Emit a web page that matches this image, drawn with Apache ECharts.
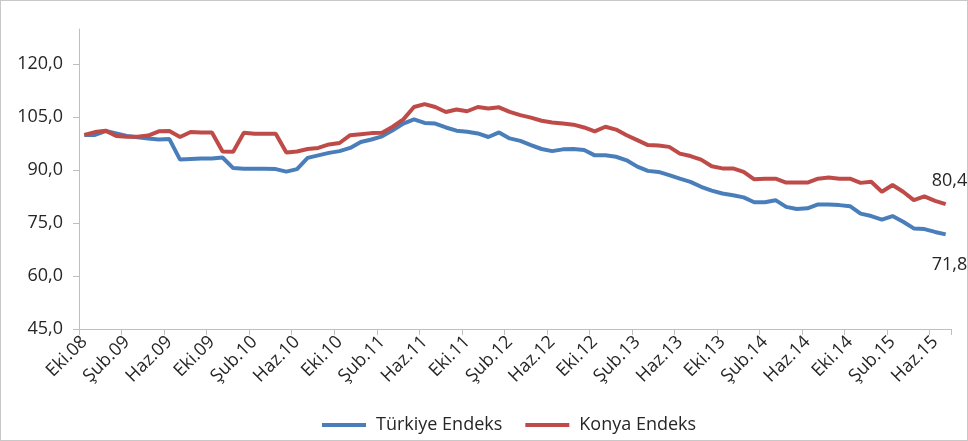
<!DOCTYPE html>
<html>
<head>
<meta charset="utf-8">
<script src="https://cdn.jsdelivr.net/npm/echarts@6/dist/echarts.min.js"></script>
<style>
html,body{margin:0;padding:0;background:#fff;}
#chart{width:966px;height:439px;border:1px solid #c8c8c8;}
</style>
</head>
<body>
<div id="chart"></div>
<script>
const categories = [
 'Eki.08','Kas.08','Ara.08',
 'Oca.09','Şub.09','Mar.09','Nis.09','May.09','Haz.09','Tem.09','Ağu.09','Eyl.09','Eki.09','Kas.09','Ara.09',
 'Oca.10','Şub.10','Mar.10','Nis.10','May.10','Haz.10','Tem.10','Ağu.10','Eyl.10','Eki.10','Kas.10','Ara.10',
 'Oca.11','Şub.11','Mar.11','Nis.11','May.11','Haz.11','Tem.11','Ağu.11','Eyl.11','Eki.11','Kas.11','Ara.11',
 'Oca.12','Şub.12','Mar.12','Nis.12','May.12','Haz.12','Tem.12','Ağu.12','Eyl.12','Eki.12','Kas.12','Ara.12',
 'Oca.13','Şub.13','Mar.13','Nis.13','May.13','Haz.13','Tem.13','Ağu.13','Eyl.13','Eki.13','Kas.13','Ara.13',
 'Oca.14','Şub.14','Mar.14','Nis.14','May.14','Haz.14','Tem.14','Ağu.14','Eyl.14','Eki.14','Kas.14','Ara.14',
 'Oca.15','Şub.15','Mar.15','Nis.15','May.15','Haz.15','Tem.15'
];
const turkiye = [
 100.0,100.0,101.1,
 100.4,99.7,99.3,99.0,98.7,98.8,93.0,93.2,93.3,93.3,93.6,90.6,
 90.4,90.4,90.4,90.3,89.6,90.3,93.5,94.2,94.9,95.4,96.3,98.0,
 98.7,99.6,101.3,103.2,104.4,103.4,103.2,102.1,101.2,100.9,100.4,99.4,
 100.7,99.0,98.3,97.1,96.0,95.4,95.9,96.0,95.7,94.2,94.2,93.8,
 92.8,91.0,89.8,89.5,88.6,87.6,86.7,85.3,84.2,83.4,82.9,82.3,
 80.9,80.9,81.5,79.6,79.0,79.2,80.3,80.3,80.1,79.8,77.7,77.0,
 76.0,77.0,75.4,73.5,73.3,72.5,71.8
];
const konya = [
 100.0,100.8,101.2,
 99.7,99.5,99.5,99.8,101.0,101.1,99.4,100.8,100.7,100.7,95.3,95.2,
 100.6,100.3,100.3,100.3,95.0,95.3,96.0,96.3,97.3,97.7,99.9,100.2,
 100.5,100.6,102.3,104.4,107.9,108.7,107.9,106.5,107.2,106.7,107.9,107.5,
 107.8,106.5,105.6,104.9,104.0,103.5,103.2,102.9,102.1,101.0,102.3,101.5,
 99.9,98.5,97.1,97.0,96.6,94.7,94.0,93.0,91.1,90.5,90.5,89.5,
 87.4,87.6,87.6,86.5,86.5,86.5,87.6,87.9,87.6,87.6,86.4,86.7,
 83.9,85.8,83.9,81.5,82.6,81.3,80.4
];
const seriesNames = ['Türkiye Endeks','Konya Endeks'];
const fmt = v => v.toFixed(1).replace('.', ',');
const FONT = '"Open Sans", sans-serif';
const TXT = '#262626';

function endLabel(offset) {
  return {
    show: true, offset: offset, distance: 5,
    formatter: p => fmt(p.value), color: TXT, fontSize: 18, fontFamily: FONT
  };
}

const chart = echarts.init(document.getElementById('chart'), null, {renderer: 'canvas'});
chart.setOption({
  animation: false,
  backgroundColor: '#fff',
  grid: {left: 78, right: 16, top: 28, bottom: 111, containLabel: false},
  legend: {
    left: 316, bottom: 1,
    icon: 'rect', itemWidth: 44, itemHeight: 4, itemGap: 23,
    textStyle: {fontSize: 18, fontFamily: FONT, color: TXT, padding: [0, 0, 0, 5]},
    data: seriesNames
  },
  xAxis: {
    type: 'category',
    data: categories,
    boundaryGap: true,
    axisLine: {lineStyle: {color: '#bfbfbf', width: 1}},
    axisTick: {show: true, interval: 3, length: 6, lineStyle: {color: '#bfbfbf'}},
    axisLabel: {interval: 3, rotate: 45, margin: 10, fontSize: 18, fontFamily: FONT, color: TXT}
  },
  yAxis: {
    type: 'value',
    min: 45, max: 130, interval: 15,
    splitLine: {show: false},
    axisLine: {show: true, lineStyle: {color: '#bfbfbf', width: 1}},
    axisTick: {show: true, length: 6, lineStyle: {color: '#bfbfbf'}},
    axisLabel: {showMaxLabel: false, margin: 16, fontSize: 18, fontFamily: FONT, color: TXT, formatter: fmt}
  },
  series: [
    {
      name: seriesNames[0], type: 'line', data: turkiye,
      symbol: 'none', smooth: false,
      endLabel: endLabel([-19, 30]),
      lineStyle: {color: '#4A7EBB', width: 4}, itemStyle: {color: '#4A7EBB'}
    },
    {
      name: seriesNames[1], type: 'line', data: konya,
      symbol: 'none', smooth: false,
      endLabel: endLabel([-19, -23]),
      lineStyle: {color: '#BE4B48', width: 4}, itemStyle: {color: '#BE4B48'}
    }
  ]
});
</script>
</body>
</html>
